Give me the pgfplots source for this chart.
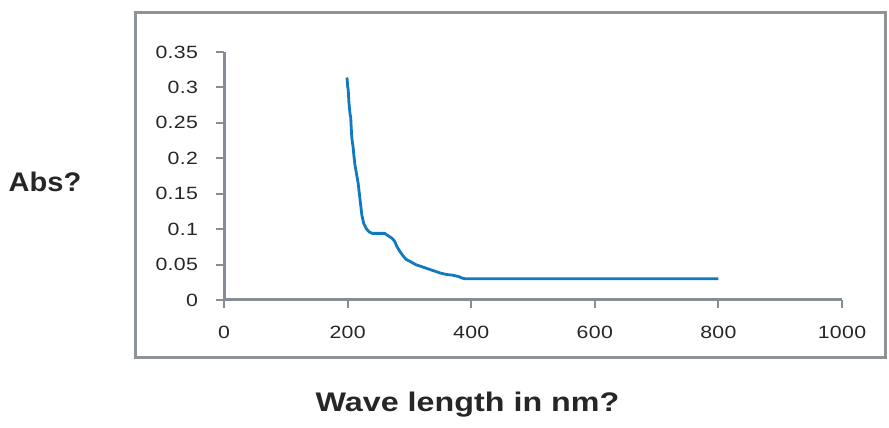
\documentclass[border=0pt]{standalone}
\usepackage{fontspec}
\usepackage{pgfplots}
\pgfplotsset{compat=1.18}
\setmainfont{Liberation Sans}
\newfontfamily\tickfont[FakeStretch=1.2, LetterSpace=2]{Liberation Sans}
\newfontfamily\labfont[FakeStretch=1.2]{Liberation Sans}
\newfontfamily\absfont[FakeStretch=1.08]{Liberation Sans}
\definecolor{axgray}{RGB}{134,141,149}
\definecolor{framegray}{RGB}{142,147,154}
\definecolor{lineblue}{RGB}{16,122,192}
\definecolor{txt}{RGB}{38,38,40}

\begin{document}
\begin{tikzpicture}
\begin{axis}[
    scale only axis,
    width=309bp, height=124bp,
    xmin=0, xmax=1000, ymin=0, ymax=0.35,
    axis x line=bottom, axis y line=left,
    axis line style={-, axgray, line width=1.5bp},
    tick style={axgray, line width=1bp},
    tick align=outside,
    major tick length=4bp,
    xtick={0,200,400,600,800,1000},
    xticklabels={0,200,400,600,800,1000},
    ytick={0,0.05,0.1,0.15,0.2,0.25,0.3,0.35},
    yticklabels={0,0.05,0.1,0.15,0.2,0.25,0.3,0.35},
    ticklabel style={font=\tickfont\fontsize{8.9}{10}\selectfont, text=txt},
    xticklabel style={yshift=-5.5bp},
    yticklabel style={xshift=-5.5bp},
    clip=false,
]
\addplot[lineblue, line width=1.4bp] coordinates {
(199,0.314)(200,0.302)(201,0.296)(202,0.280)(204,0.262)(205,0.258)
(206,0.240)(207,0.227)(209,0.215)(210,0.205)(212,0.190)(215,0.175)
(217,0.165)(219,0.150)(221,0.135)(223,0.120)(226,0.108)(230,0.101)
(235,0.096)(240,0.094)(250,0.094)(260,0.094)(265,0.091)(272,0.087)
(276,0.083)(280,0.075)(285,0.068)(290,0.062)(295,0.057)(300,0.055)
(310,0.050)(320,0.047)(330,0.044)(340,0.041)(350,0.038)(360,0.036)
(370,0.035)(380,0.033)(385,0.031)(390,0.030)(400,0.030)(800,0.030)
};
% outer frame and page extent
\draw[framegray, line width=1.5bp] (rel axis cs:-0.144,-0.230) rectangle (rel axis cs:1.0696,1.161);
\path (rel axis cs:-0.3625,-0.516) rectangle (rel axis cs:1.076,1.2097);
\node[font=\absfont\bfseries\fontsize{13.5}{15}\selectfont, text=txt] at (rel axis cs:-0.2896,0.476) {Abs?};
\node[font=\labfont\bfseries\fontsize{13.5}{15}\selectfont, text=txt] at (rel axis cs:0.394,-0.423) {Wave length in nm?};
\end{axis}
\end{tikzpicture}
\end{document}
